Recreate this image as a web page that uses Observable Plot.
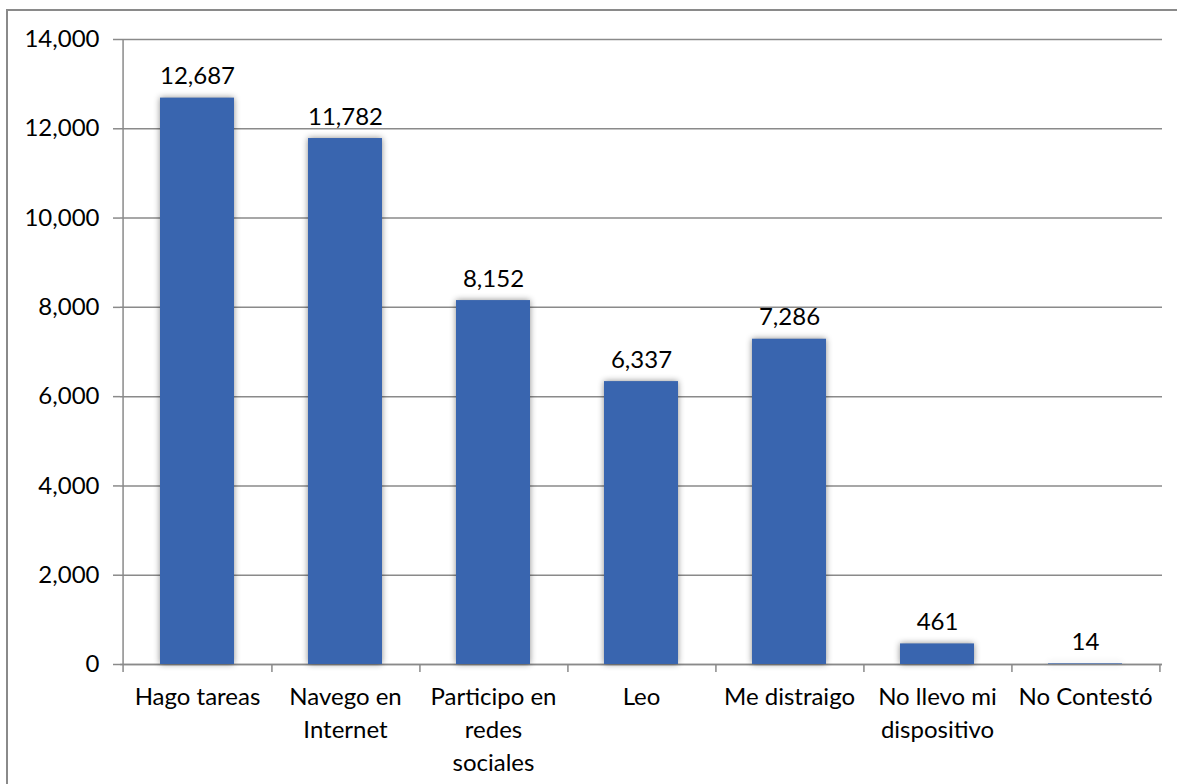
<!DOCTYPE html>
<html>
<head>
<meta charset="utf-8">
<script src="https://cdn.jsdelivr.net/npm/d3@7"></script>
<script src="https://cdn.jsdelivr.net/npm/@observablehq/plot@0.6"></script>
<style>
  html, body { margin: 0; padding: 0; background: #fff; }
  #wrap { position: relative; width: 1177px; height: 784px; overflow: hidden; }
  #border { position: absolute; left: 6px; top: 9px; width: 1200px; height: 900px; border: 2px solid #8a8a8a; box-sizing: border-box; }
  #chart { position: absolute; left: 0; top: 0; }
  #chart g[aria-label="bar"] rect { filter: drop-shadow(0px 0px 3px rgba(0,0,0,0.45)); }
</style>
</head>
<body>
<div id="wrap"><div id="border"></div><div id="chart"></div></div>
<script>
const categories = ["Hago tareas", "Navego en\nInternet", "Participo en\nredes\nsociales", "Leo", "Me distraigo", "No llevo mi\ndispositivo", "No Contestó"];
const values = [12687, 11782, 8152, 6337, 7286, 461, 14];
const yTicks = [0, 2000, 4000, 6000, 8000, 10000, 12000, 14000];

const data = categories.map((c, i) => ({category: c, value: values[i]}));
const W = 1177, H = 784, mL = 120, mR = 15, mT = 39, mB = 120;
const band = (W - mL - mR) / categories.length;
const font = "Lato, 'Open Sans', sans-serif";
const fmt = d3.format(",");
const grey = "#8a8a8a";

const chart = Plot.plot({
  width: W, height: H,
  marginLeft: mL, marginRight: mR, marginTop: mT, marginBottom: mB,
  style: {fontFamily: font, fontSize: "24px", color: "#000", background: "transparent"},
  x: {domain: categories, paddingInner: 0.5, paddingOuter: 0.25, align: 0.5},
  y: {domain: [0, 14000]},
  marks: [
    Plot.gridY(yTicks, {stroke: grey, strokeOpacity: 1, strokeWidth: 1.5}),
    Plot.axisY(yTicks, {tickSize: 7, tickPadding: 14, tickFormat: fmt, stroke: grey, strokeWidth: 1.5, fontSize: 24, fill: "#000", label: null}),
    Plot.ruleX([categories[0]], {x: d => d, dx: -band / 2, y1: 0, y2: 14000, stroke: grey, strokeWidth: 1.5}),
    Plot.ruleY([0], {stroke: grey, strokeWidth: 1.5}),
    Plot.ruleX(categories, {x: d => d, dx: band / 2, y1: 0, y2: 0, insetBottom: -8, stroke: grey, strokeWidth: 1.5}),
    Plot.ruleX([categories[0]], {x: d => d, dx: -band / 2, y1: 0, y2: 0, insetBottom: -8, stroke: grey, strokeWidth: 1.5}),
    Plot.barY(data, {x: "category", y: "value", fill: "#3965af"}),
    Plot.text(data, {x: "category", y: "value", text: d => fmt(d.value), lineAnchor: "bottom", dy: -14, fontSize: 24, fill: "#000"}),
    Plot.axisX({tickSize: 0, tickPadding: 17, lineHeight: 1.38, fontSize: 24, fill: "#000", label: null})
  ]
});
document.getElementById("chart").appendChild(chart);
</script>
</body>
</html>
